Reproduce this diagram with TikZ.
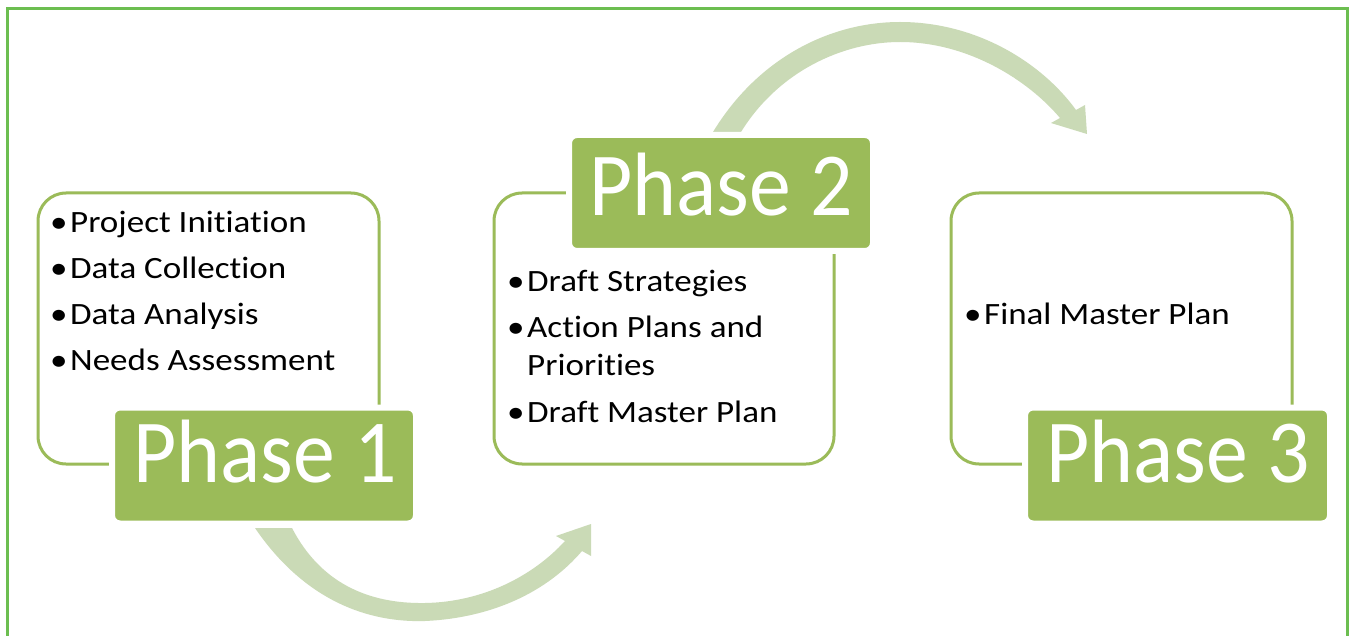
\documentclass[tikz,border=0pt]{standalone}
\usepackage{fontspec}
\setmainfont{Carlito}
\newfontfamily\listfont[FakeStretch=1.13,Ligatures=NoCommon]{Carlito}
\newfontfamily\phasefont[FakeStretch=0.93]{Carlito}
\definecolor{framegreen}{RGB}{108,190,80}
\definecolor{phasegreen}{RGB}{155,187,89}
\definecolor{arrowgreen}{RGB}{202,218,182}
\newcommand{\itm}[1]{\makebox[20pt][l]{\textbullet}#1}
\tikzset{
  outlinebox/.style={draw=phasegreen, line width=3pt, rounded corners=28pt, fill=white},
  phasebox/.style={fill=phasegreen, draw=white, line width=6pt, rounded corners=8pt,
    minimum width=#1, minimum height=116pt, inner sep=0pt},
  phasetext/.style={text=white, font=\phasefont\fontsize{90}{90}\selectfont, inner sep=0pt, anchor=base},
  itemtext/.style={font=\listfont\fontsize{31}{31}\selectfont, anchor=base west, inner sep=0pt, text=black},
  flowarrow/.style={fill=arrowgreen, draw=none}
}
\begin{document}
\begin{tikzpicture}[x=1pt,y=-1pt]
\useasboundingbox (0,0) rectangle (1349,636);
\fill[white] (0,0) rectangle (1349,636);

% outer frame
\draw[framegreen, line width=3pt] (7.5,636) -- (7.5,8.5) -- (1347.5,8.5) -- (1347.5,636);

% curved flow arrows
\path[flowarrow] (255,528) .. controls (300,594) and (360,623) .. (425,621)
  .. controls (492,618) and (547,592) .. (582,551) -- (591,556) -- (591,524)
  -- (556,536) -- (565,541) .. controls (533,576) and (483,602) .. (425,603)
  .. controls (367,604) and (320,582) .. (292,528) -- cycle;
\path[flowarrow] (713,132) .. controls (758,58) and (830,22) .. (900,22)
  .. controls (977,22) and (1042,63) .. (1076,110) -- (1085,105) -- (1087,134)
  -- (1051,123) -- (1060,118) .. controls (1028,80) and (968,42) .. (900,42)
  .. controls (842,42) and (778,72) .. (741,132) -- cycle;

% content frames
\draw[outlinebox] (38,193) rectangle (379,464);
\draw[outlinebox] (494,193) rectangle (834,464);
\draw[outlinebox] (951,193) rectangle (1292,464);

% phase labels
\node[phasebox=304pt] (p1) at (264,465.5) {};
\node[phasebox=304pt] (p2) at (721,193) {};
\node[phasebox=305pt] (p3) at (1177.5,465.5) {};
\node[phasetext] (t1) at (265,482) {Phase 1};
\node[phasetext] (t2) at (721,216) {Phase 2};
\node[phasetext] (t3) at (1178,482) {Phase 3};

% phase 1 items
\node[itemtext] (a1) at (50,233) {\itm{Project Initiation}};
\node[itemtext] (a2) at (50,279) {\itm{Data Collection}};
\node[itemtext] (a3) at (50,324.5) {\itm{Data Analysis}};
\node[itemtext] (a4) at (50,370) {\itm{Needs Assessment}};

% phase 2 items
\node[itemtext] (b1) at (507,292) {\itm{Draft Strategies}};
\node[itemtext] (b2) at (507,337) {\itm{Action Plans and}};
\node[itemtext] (b3) at (527,375) {Priorities};
\node[itemtext] (b4) at (507,422) {\itm{Draft Master Plan}};

% phase 3 items
\node[itemtext] (c1) at (964,324) {\itm{Final Master Plan}};
\end{tikzpicture}
\end{document}
